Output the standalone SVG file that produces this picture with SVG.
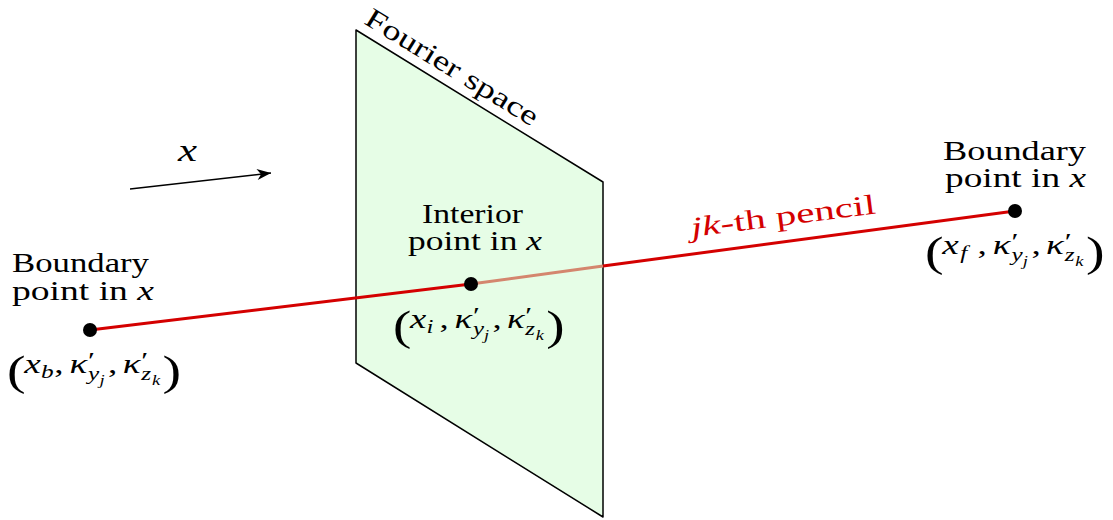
<svg xmlns="http://www.w3.org/2000/svg" width="1113" height="520" viewBox="0 0 1113 520">
<defs>
<marker id="ah" viewBox="-15 -7 16 14" refX="0" refY="0" markerWidth="16" markerHeight="14" markerUnits="userSpaceOnUse" orient="auto">
<path d="M0,0 L-14,-5.5 L-10,0 L-14,5.5 Z" fill="#000"/>
</marker>
<g id="tail">
<text style="font-family:'Liberation Serif',serif;font-size:28px" x="35.5" y="0">,</text>
<text style="font-family:'Liberation Serif',serif;font-size:28px;font-style:italic" x="47" y="0">κ</text>
<text style="font-family:'Liberation Serif',serif;font-size:24px" x="61" y="-5">′</text>
<text style="font-family:'Liberation Serif',serif;font-size:19px;font-style:italic" x="61" y="7">y</text>
<text style="font-family:'Liberation Serif',serif;font-size:14px;font-style:italic" x="69.5" y="12">j</text>
<text style="font-family:'Liberation Serif',serif;font-size:28px" x="76" y="0">,</text>
<text style="font-family:'Liberation Serif',serif;font-size:28px;font-style:italic" x="87" y="0">κ</text>
<text style="font-family:'Liberation Serif',serif;font-size:24px" x="101" y="-5">′</text>
<text style="font-family:'Liberation Serif',serif;font-size:19px;font-style:italic" x="101" y="7">z</text>
<text style="font-family:'Liberation Serif',serif;font-size:14px;font-style:italic" x="109" y="12">k</text>
<text style="font-family:'Liberation Serif',serif;font-size:42px" x="117" y="11.5">)</text>
</g>
</defs>

<g id="plane">
<polygon points="356,30 603,182 603,517 356,363" fill="#e6fde6" stroke="#000" stroke-width="1.5" stroke-linejoin="round"/>
<text style="font-family:'Liberation Serif',serif;font-size:28px" transform="translate(363,23) rotate(31.6)" textLength="198" lengthAdjust="spacingAndGlyphs">Fourier space</text>
</g>

<g id="connectors">
<polyline points="90,330 471,284" fill="none" stroke="#d40000" stroke-width="3"/>
<polyline points="471,284 603,266" fill="none" stroke="#d4866e" stroke-width="3"/>
<polyline points="603,266 1015,211" fill="none" stroke="#d40000" stroke-width="3"/>
<line x1="130" y1="189" x2="271" y2="173" stroke="#000" stroke-width="1.5" marker-end="url(#ah)"/>
<text style="font-family:'Liberation Serif',serif;font-size:32px;font-style:italic" x="178" y="161" textLength="19" lengthAdjust="spacingAndGlyphs">x</text>
<text style="font-family:'Liberation Serif',serif;font-size:28px;fill:#d40000" transform="translate(692,237) rotate(-7.3)" textLength="186" lengthAdjust="spacingAndGlyphs"><tspan style="font-style:italic">jk</tspan>-th pencil</text>
</g>

<g id="node-left">
<circle cx="90" cy="330" r="7" fill="#000"/>
<text style="font-family:'Liberation Serif',serif;font-size:28px" x="12" y="272" textLength="137" lengthAdjust="spacingAndGlyphs">Boundary</text>
<text style="font-family:'Liberation Serif',serif;font-size:28px" x="12" y="300" textLength="142" lengthAdjust="spacingAndGlyphs">point in <tspan style="font-style:italic">x</tspan></text>
<g transform="translate(7,373) scale(1.33,1)">
<text style="font-family:'Liberation Serif',serif;font-size:42px" x="0" y="11.5">(</text>
<text style="font-family:'Liberation Serif',serif;font-size:28px;font-style:italic" x="13" y="0">x</text>
<text style="font-family:'Liberation Serif',serif;font-size:19px;font-style:italic" x="25.5" y="5">b</text>
<use href="#tail"/>
</g>
</g>

<g id="node-interior">
<circle cx="471" cy="284" r="7" fill="#000"/>
<text style="font-family:'Liberation Serif',serif;font-size:28px" x="422" y="223" textLength="101" lengthAdjust="spacingAndGlyphs">Interior</text>
<text style="font-family:'Liberation Serif',serif;font-size:28px" x="408" y="250" textLength="134" lengthAdjust="spacingAndGlyphs">point in <tspan style="font-style:italic">x</tspan></text>
<g transform="translate(393,328) scale(1.31,1)">
<text style="font-family:'Liberation Serif',serif;font-size:42px" x="0" y="11.5">(</text>
<text style="font-family:'Liberation Serif',serif;font-size:28px;font-style:italic" x="13" y="0">x</text>
<text style="font-family:'Liberation Serif',serif;font-size:19px;font-style:italic" x="25.5" y="5">i</text>
<use href="#tail"/>
</g>
</g>

<g id="node-right">
<circle cx="1015" cy="211" r="7" fill="#000"/>
<text style="font-family:'Liberation Serif',serif;font-size:28px" x="943" y="160" textLength="143" lengthAdjust="spacingAndGlyphs">Boundary</text>
<text style="font-family:'Liberation Serif',serif;font-size:28px" x="945" y="187" textLength="141" lengthAdjust="spacingAndGlyphs">point in <tspan style="font-style:italic">x</tspan></text>
<g transform="translate(925,254) scale(1.33,1)">
<text style="font-family:'Liberation Serif',serif;font-size:42px" x="0" y="11.5">(</text>
<text style="font-family:'Liberation Serif',serif;font-size:28px;font-style:italic" x="13" y="0">x</text>
<text style="font-family:'Liberation Serif',serif;font-size:19px;font-style:italic" x="26.5" y="5">f</text>
<g transform="translate(4,0)"><use href="#tail"/></g>
</g>
</g>
</svg>
